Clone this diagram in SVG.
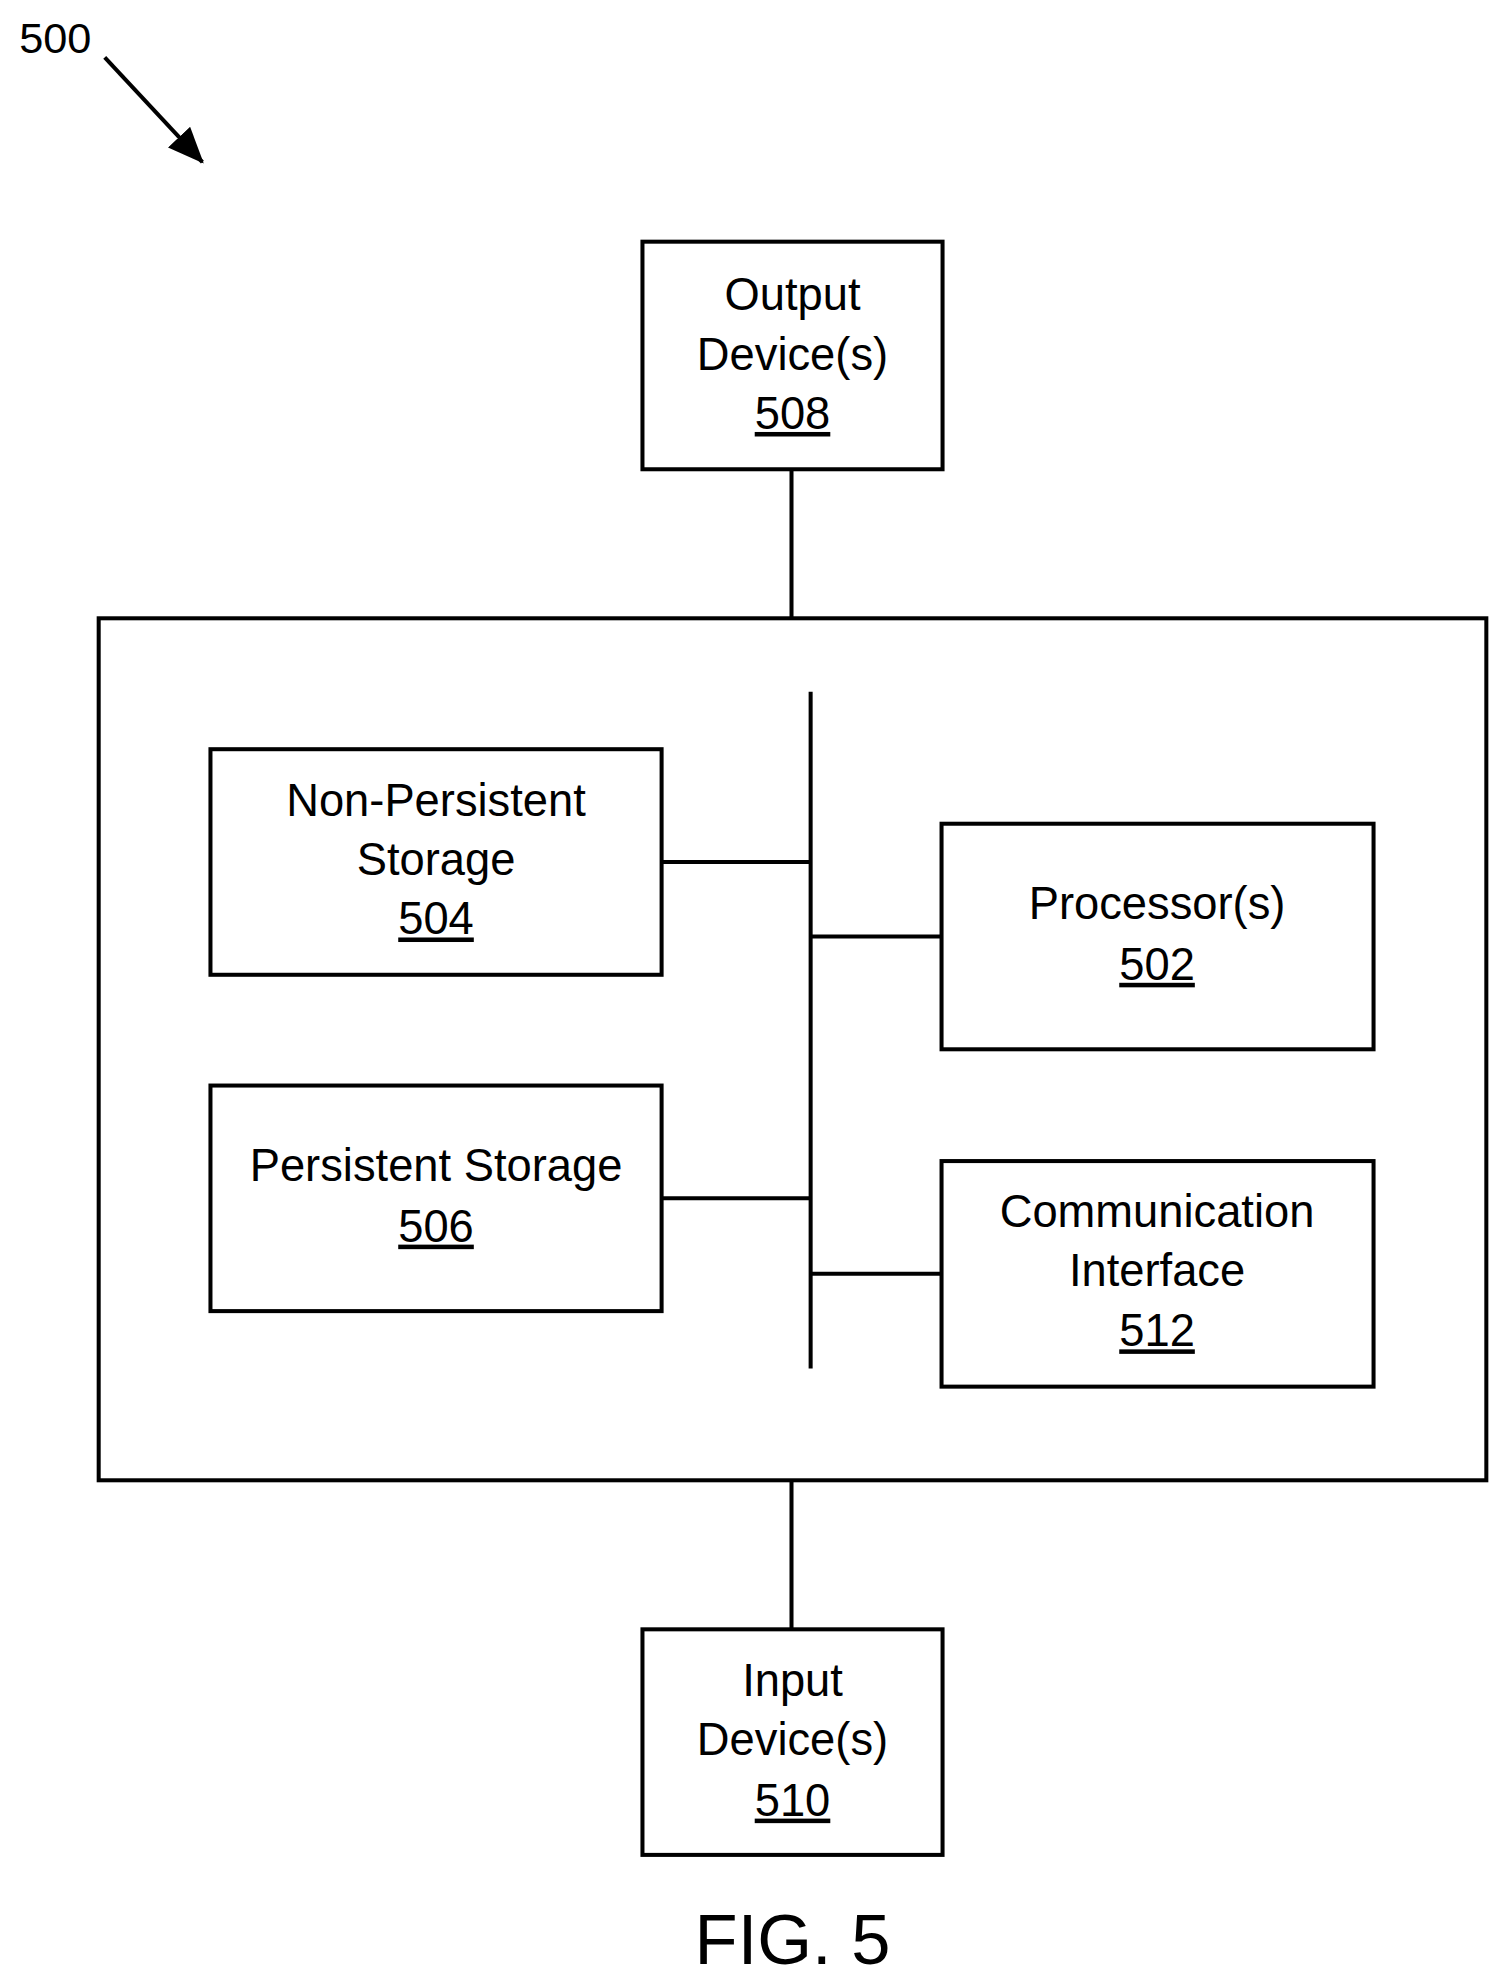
<svg xmlns="http://www.w3.org/2000/svg" width="1510" height="1988" viewBox="0 0 1510 1988">
<style>
.b{fill:#fff;stroke:#000;stroke-width:4}
.t{font-family:"Liberation Sans",Arial,sans-serif;font-size:45px;text-anchor:middle;fill:#000}
.u{text-decoration:underline}
.c{stroke:#000;stroke-width:4;fill:none}
</style>
<defs><marker id="ah" markerWidth="36" markerHeight="30" refX="34" refY="15" orient="auto" markerUnits="userSpaceOnUse"><path d="M0,0 L36,15 L0,30z"/></marker></defs>
<rect width="1510" height="1988" fill="#fff"/>
<g transform="scale(1.007)">
<text x="19" y="53" style="font-family:'Liberation Sans',Arial,sans-serif;font-size:43px">500</text>
<line x1="104" y1="57" x2="201" y2="161" class="c" marker-end="url(#ah)"/>
<g id="system"><rect x="98" y="614" width="1378" height="856" style="fill:none;stroke:#000;stroke-width:4"/></g>
<g id="connectors">
<line class="c" x1="786" y1="466" x2="786" y2="614"/>
<line class="c" x1="786" y1="1470" x2="786" y2="1618"/>
<line class="c" x1="805" y1="687" x2="805" y2="1359"/>
<line class="c" x1="657" y1="856" x2="805" y2="856"/>
<line class="c" x1="805" y1="930" x2="935" y2="930"/>
<line class="c" x1="657" y1="1190" x2="805" y2="1190"/>
<line class="c" x1="805" y1="1265" x2="935" y2="1265"/>
</g>
<g id="n508"><rect class="b" x="638" y="240" width="298" height="226"/>
<text class="t" x="787" y="308">Output</text><text class="t" x="787" y="367">Device(s)</text><text class="t u" x="787" y="426">508</text></g>
<g id="n504"><rect class="b" x="209" y="744" width="448" height="224"/>
<text class="t" x="433" y="810">Non-Persistent</text><text class="t" x="433" y="869">Storage</text><text class="t u" x="433" y="928">504</text></g>
<g id="n502"><rect class="b" x="935" y="818" width="429" height="224"/>
<text class="t" x="1149" y="913">Processor(s)</text><text class="t u" x="1149" y="973">502</text></g>
<g id="n506"><rect class="b" x="209" y="1078" width="448" height="224"/>
<text class="t" x="433" y="1173">Persistent Storage</text><text class="t u" x="433" y="1233">506</text></g>
<g id="n512"><rect class="b" x="935" y="1153" width="429" height="224"/>
<text class="t" x="1149" y="1218">Communication</text><text class="t" x="1149" y="1277">Interface</text><text class="t u" x="1149" y="1337">512</text></g>
<g id="n510"><rect class="b" x="638" y="1618" width="298" height="224"/>
<text class="t" x="787" y="1684">Input</text><text class="t" x="787" y="1743">Device(s)</text><text class="t u" x="787" y="1803">510</text></g>
<text x="787" y="1950" style="font-family:'Liberation Sans',Arial,sans-serif;font-size:70px;text-anchor:middle">FIG. 5</text>
</g>
</svg>
